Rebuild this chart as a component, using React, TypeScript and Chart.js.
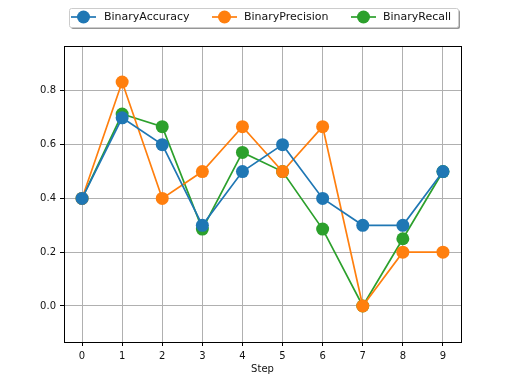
import React, { useEffect, useRef } from "react";
import { Chart, registerables } from "chart.js";

Chart.register(...registerables);

const STEPS = [0, 1, 2, 3, 4, 5, 6, 7, 8, 9];
const ACCURACY = [0.4, 0.7, 0.6, 0.3, 0.5, 0.6, 0.4, 0.3, 0.3, 0.5];
const PRECISION = [0.4, 0.833, 0.4, 0.5, 0.667, 0.5, 0.667, 0.0, 0.2, 0.2];
const RECALL = [0.4, 0.714, 0.667, 0.286, 0.571, 0.5, 0.286, 0.0, 0.25, 0.5];
const Y_TICKS = [0.0, 0.2, 0.4, 0.6, 0.8];
const SERIES_NAMES = ["BinaryAccuracy", "BinaryPrecision", "BinaryRecall"];
const COLORS = ["#1f77b4", "#ff7f0e", "#2ca02c"];

const FONT = "DejaVu Sans";
const TEXT = "#111";

const framePlugin = {
  id: "frameLegend",
  afterDraw(chart: any) {
    const ctx = chart.ctx;
    const a = chart.chartArea;
    ctx.save();
    ctx.strokeStyle = "#000";
    ctx.lineWidth = 1;
    ctx.strokeRect(Math.round(a.left) + 0.5, Math.round(a.top) + 0.5, Math.round(a.right - a.left), Math.round(a.bottom - a.top));

    // legend box
    const lx = 69, ly = 8, lw = 389, lh = 19;
    ctx.fillStyle = "rgba(80,80,80,0.6)";
    ctx.beginPath();
    ctx.roundRect(lx + 2, ly + 2, lw, lh, 2);
    ctx.fill();
    ctx.fillStyle = "#fff";
    ctx.strokeStyle = "#cccccc";
    ctx.beginPath();
    ctx.roundRect(lx + 0.5, ly + 0.5, lw, lh, 2);
    ctx.fill();
    ctx.stroke();

    const handles = [71, 212, 351];
    const texts = [104, 244, 383];
    const cy = 17;
    ctx.font = `11px '${FONT}'`;
    ctx.textBaseline = "middle";
    for (let i = 0; i < 3; i++) {
      ctx.strokeStyle = COLORS[i];
      ctx.lineWidth = 1.7;
      ctx.beginPath();
      ctx.moveTo(handles[i], cy);
      ctx.lineTo(handles[i] + 25, cy);
      ctx.stroke();
      ctx.fillStyle = COLORS[i];
      ctx.beginPath();
      ctx.arc(handles[i] + 12.5, cy, 6.5, 0, Math.PI * 2);
      ctx.fill();
      ctx.fillStyle = TEXT;
      ctx.textAlign = "left";
      ctx.fillText(SERIES_NAMES[i], texts[i], cy);
    }
    ctx.restore();
  },
};

export default function App() {
  const ref = useRef<HTMLCanvasElement>(null);
  useEffect(() => {
    if (!ref.current) return;
    const series = [ACCURACY, PRECISION, RECALL];
    const chart = new Chart(ref.current, {
      type: "line",
      data: {
        datasets: series.map((vals, i) => ({
          label: SERIES_NAMES[i],
          data: STEPS.map((s, j) => ({ x: s, y: vals[j] })),
          borderColor: COLORS[i],
          backgroundColor: COLORS[i],
          pointBackgroundColor: COLORS[i],
          pointBorderColor: COLORS[i],
          pointRadius: 6.5,
          pointBorderWidth: 0,
          borderWidth: 1.7,
          tension: 0,
        })),
      },
      options: {
        animation: false,
        responsive: false,
        maintainAspectRatio: false,
        layout: { padding: { top: 46, right: 51, left: 0, bottom: 0 } },
        plugins: { legend: { display: false }, tooltip: { enabled: false } },
        scales: {
          x: {
            type: "linear",
            min: -0.45,
            max: 9.45,
            afterBuildTicks: (s: any) => {
              s.ticks = STEPS.map((v) => ({ value: v }));
            },
            afterFit: (s: any) => {
              s.height = 42;
            },
            ticks: {
              color: TEXT,
              font: { family: FONT, size: 10 },
              padding: 4,
              maxRotation: 0,
              autoSkip: false,
              callback: (v: any) => String(v),
            },
            grid: { color: "#b0b0b0", tickColor: "#000", tickLength: 4, lineWidth: 1 },
            border: { display: false },
            title: {
              display: true,
              text: "Step",
              color: TEXT,
              font: { family: FONT, size: 10 },
              padding: { top: 0, bottom: 9 },
            },
          },
          y: {
            type: "linear",
            min: -0.134,
            max: 0.967,
            afterBuildTicks: (s: any) => {
              s.ticks = Y_TICKS.map((v) => ({ value: v }));
            },
            afterFit: (s: any) => {
              s.width = 64;
            },
            ticks: {
              color: TEXT,
              font: { family: FONT, size: 10 },
              padding: 4,
              autoSkip: false,
              callback: (v: any) => Number(v).toFixed(1),
            },
            grid: { color: "#b0b0b0", tickColor: "#000", tickLength: 4, lineWidth: 1 },
            border: { display: false },
          },
        },
      },
      plugins: [framePlugin],
    });
    return () => chart.destroy();
  }, []);
  return (
    <div style={{ position: "absolute", left: 0, top: 0, width: 512, height: 384, background: "#fff" }}>
      <canvas ref={ref} width={512} height={384} style={{ width: 512, height: 384 }} />
    </div>
  );
}
